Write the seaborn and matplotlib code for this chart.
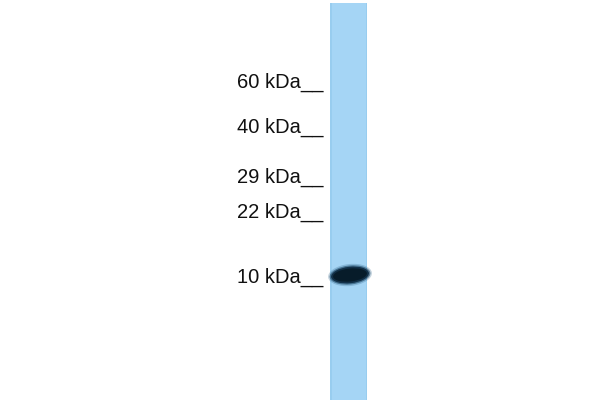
import seaborn as sns
import matplotlib.pyplot as plt
from matplotlib.patches import Rectangle, Ellipse

# marker ladder (label, migration position in px from top)
marker_labels = ["60 kDa", "40 kDa", "29 kDa", "22 kDa", "10 kDa"]
marker_pos = [82, 127, 177, 212, 277]

# single detected band
band_pos = 275
band_center_x = 350

sns.set_theme(style="white")
plt.rcParams['font.family'] = ['Liberation Sans', 'DejaVu Sans']

fig = plt.figure(figsize=(6, 4), dpi=100)
ax = fig.add_axes([0, 0, 1, 1])
ax.set_xlim(0, 600)
ax.set_ylim(400, 0)
ax.axis('off')

# lane
lane_left, lane_right = 330, 367
ax.add_patch(Rectangle((lane_left, 3), lane_right - lane_left, 400,
                       facecolor='#a5d5f5', edgecolor='none', zorder=1))
# slightly darker lane edges
ax.add_patch(Rectangle((lane_left, 3), 1.5, 400, facecolor='#98cdef', edgecolor='none', zorder=1))
ax.add_patch(Rectangle((lane_right - 1.5, 3), 1.5, 400, facecolor='#98cdef', edgecolor='none', zorder=1))

# band, soft edged: stack of ellipses
for w, h, a, c in [(44, 22, 0.3, '#3d6f93'),
                   (41, 19, 0.6, '#1f4866'),
                   (38, 16.5, 0.95, '#0f2d44'),
                   (34, 13, 1.0, '#071c2a')]:
    ax.add_patch(Ellipse((band_center_x, band_pos), w, h, angle=-6,
                         facecolor=c, edgecolor='none', alpha=a, zorder=2))

# ladder labels
for lab, y in zip(marker_labels, marker_pos):
    ax.text(323, y, lab + "__", ha='right', va='center', fontsize=14.5,
            color='#111111', zorder=3)

fig.savefig('out.png', dpi=100)
